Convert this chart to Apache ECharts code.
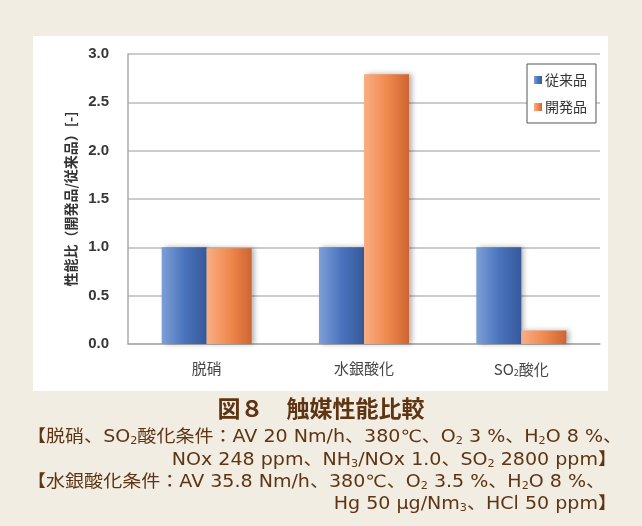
<!DOCTYPE html>
<html>
<head>
<meta charset="utf-8">
<script src="https://cdn.jsdelivr.net/npm/echarts@6/dist/echarts.min.js"></script>
<style>
  html, body { margin: 0; padding: 0; background: #f1ede3; }
  #chart { width: 642px; height: 526px; }
</style>
</head>
<body>
<div id="chart"></div>
<script>
// Catalyst performance ratio (new product / conventional product)
const categories = ['脱硝', '水銀酸化', 'SO2酸化'];
const seriesNames = ['従来品', '開発品'];
const conventional = [1.0, 1.0, 1.0];
const developed = [0.99, 2.79, 0.14];
const yTicks = [0, 0.5, 1.0, 1.5, 2.0, 2.5, 3.0];

const brown = '#5e3412';
const font = '"Liberation Sans", "Noto Sans CJK JP", sans-serif';
const captionFont = '17px "DejaVu Sans", "Noto Sans CJK JP"';
const small = { s: { fontSize: 10, fill: brown, fontFamily: '"DejaVu Sans"', verticalAlign: 'bottom', padding: [5, 0, 0, 0] } };
const stretch = 1.12;

function captionLine(text, x, y, align) {
  return {
    type: 'text', x: x, y: y, scaleX: stretch, originX: 0, originY: 0,
    style: { text: text, font: captionFont, fill: brown, rich: small, align: align, verticalAlign: 'middle' }
  };
}

function barGradient(light, mid, dark) {
  return new echarts.graphic.LinearGradient(0, 0, 1, 0, [
    { offset: 0, color: light },
    { offset: 0.5, color: mid },
    { offset: 1, color: dark }
  ]);
}

const chart = echarts.init(document.getElementById('chart'), null, { renderer: 'canvas' });

chart.setOption({
  backgroundColor: '#f1ede3',
  animation: false,
  textStyle: { fontFamily: font },
  graphic: [
    {
      type: 'rect', z: -10,
      shape: { x: 33, y: 36, width: 575, height: 355 },
      style: { fill: '#ffffff' }
    },
    {
      type: 'text', left: 'center', top: 397,
      style: { text: '図８　触媒性能比較', font: 'bold 23px "Noto Sans CJK JP"', fill: brown }
    },
    captionLine('【脱硝、SO{s|2}酸化条件：AV 20 Nm/h、380℃、O{s|2} 3 %、H{s|2}O 8 %、', 27, 438, 'left'),
    captionLine('NOx 248 ppm、NH{s|3}/NOx 1.0、SO{s|2} 2800 ppm】', 617, 461, 'right'),
    captionLine('【水銀酸化条件：AV 35.8 Nm/h、380℃、O{s|2} 3.5 %、H{s|2}O 8 %、', 27, 483, 'left'),
    captionLine('Hg 50 μg/Nm{s|3}、HCl 50 ppm】', 617, 505, 'right')
  ],
  grid: { left: 128, right: 42, top: 54, bottom: 182 },
  legend: {
    orient: 'vertical',
    left: 527, top: 64,
    padding: [9, 9, 9, 7],
    itemGap: 13,
    itemWidth: 8, itemHeight: 8,
    borderColor: '#555', borderWidth: 1,
    backgroundColor: '#ffffff',
    icon: 'rect',
    textStyle: { fontSize: 14, color: '#333', fontFamily: '"Noto Sans CJK JP"', padding: [0, 0, 0, -2] },
    data: seriesNames
  },
  xAxis: {
    type: 'category',
    data: categories,
    axisLine: { lineStyle: { color: '#aaa', width: 1.5 } },
    axisTick: { show: false },
    axisLabel: {
      margin: 17, fontSize: 15, color: '#444', fontFamily: '"Noto Sans CJK JP"',
      formatter: v => v === 'SO2酸化' ? 'SO{sub|2}酸化' : v,
      rich: { sub: { fontSize: 9, verticalAlign: 'bottom', color: '#444', padding: [7, 0, 0, 0] } }
    }
  },
  yAxis: {
    type: 'value',
    min: 0, max: 3, interval: 0.5,
    name: '性能比（開発品/従来品）[-]',
    nameLocation: 'middle',
    nameGap: 48,
    nameTextStyle: { fontSize: 14, fontWeight: 'bold', color: '#333', fontFamily: '"Noto Sans CJK JP"' },
    axisLine: { show: true, lineStyle: { color: '#aaa', width: 1.5 } },
    axisTick: { show: false },
    splitLine: { lineStyle: { color: '#bbb', width: 1.5 } },
    axisLabel: {
      margin: 19, fontSize: 15, fontWeight: 'bold', color: '#383838',
      formatter: v => yTicks.includes(v) ? v.toFixed(1) : ''
    }
  },
  series: [
    {
      name: seriesNames[0], type: 'bar', data: conventional,
      barWidth: 45, barGap: '0%',
      itemStyle: {
        color: barGradient('#7c9fd6', '#4a74bd', '#36599a'),
        shadowColor: 'rgba(0,0,0,0.3)', shadowBlur: 5, shadowOffsetX: 3
      }
    },
    {
      name: seriesNames[1], type: 'bar', data: developed,
      barWidth: 45, barGap: '0%',
      itemStyle: {
        color: barGradient('#f9ae84', '#f08a4f', '#cf6430'),
        shadowColor: 'rgba(0,0,0,0.3)', shadowBlur: 5, shadowOffsetX: 3
      }
    }
  ]
});
</script>
</body>
</html>
